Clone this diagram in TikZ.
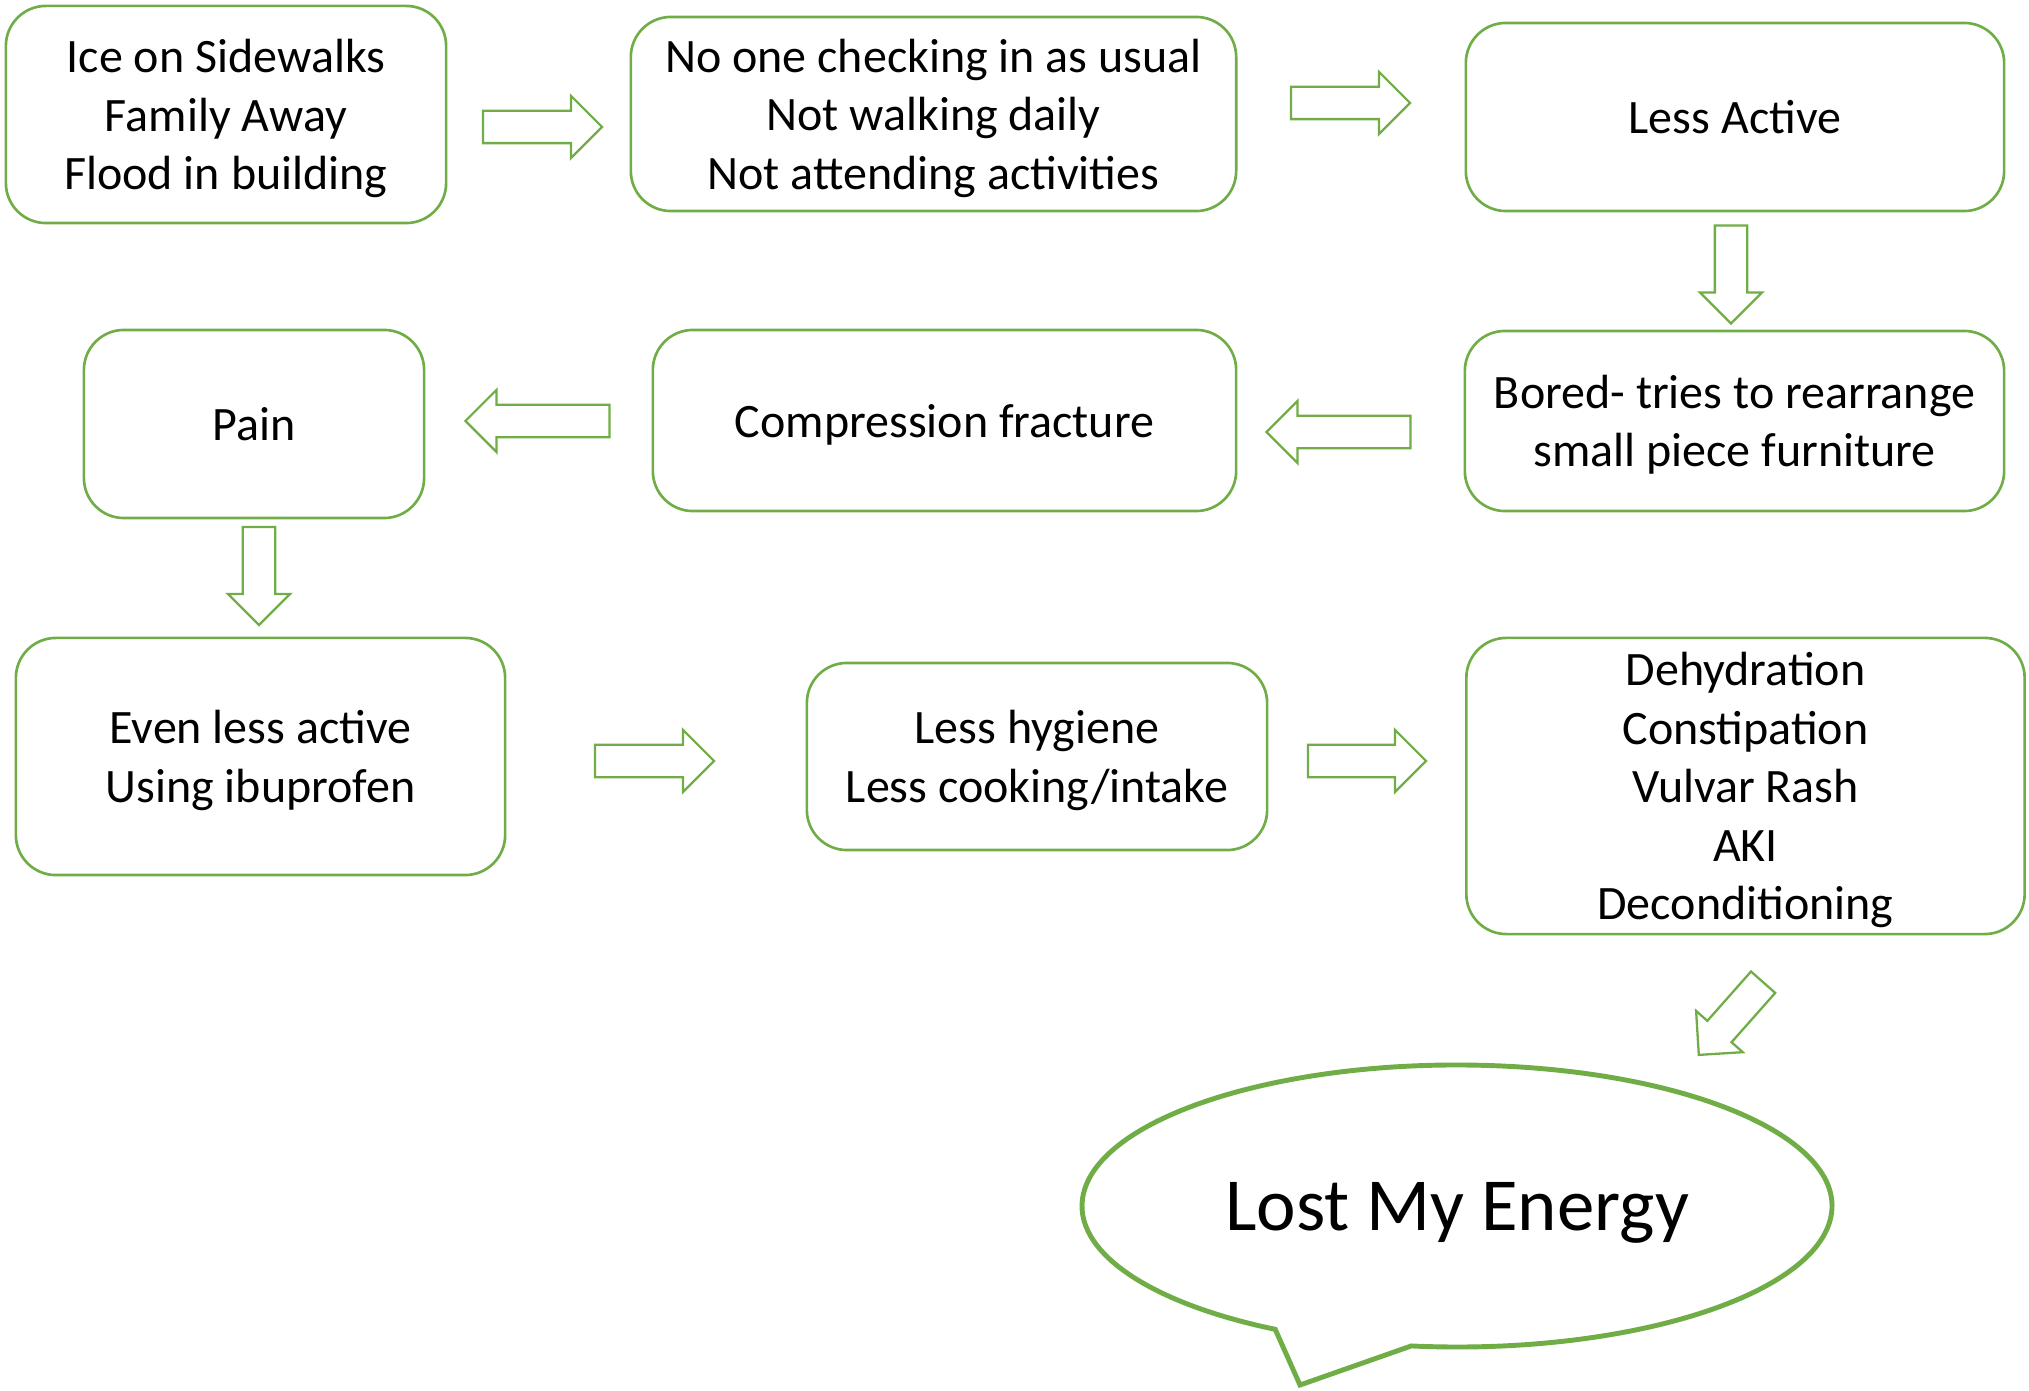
\documentclass[tikz,border=0pt]{standalone}
\usepackage{fontspec}
\setmainfont{Carlito}
\usepackage{tikz}
\usetikzlibrary{shapes.arrows}
\definecolor{vert}{RGB}{112,173,71}
\tikzset{
  hop/.style={draw=vert, line width=0.75pt, rounded corners=0.4cm, align=center, inner sep=0pt,
    text depth=0pt, font=\fontsize{13.65}{16.6}\selectfont},
  fleche/.style={single arrow, draw=vert, line width=0.65pt, inner xsep=0pt, inner ysep=0.15cm,
    single arrow head extend=0.15cm, single arrow tip angle=90, minimum height=#1},
  fleche/.default=1.19cm
}
\begin{document}
\begin{tikzpicture}[x=0.01cm,y=0.01cm]
\useasboundingbox (0,0) rectangle (2029,1390);
\node[hop, minimum width=4.40cm, minimum height=2.17cm] (ice) at (226,1275.5) {Ice on Sidewalks\\Family Away\\Flood in building};
\node[hop, minimum width=6.05cm, minimum height=1.94cm] (check) at (933.5,1276) {No one checking in as usual\\Not walking daily\\Not attending activities};
\node[hop, minimum width=5.38cm, minimum height=1.88cm] (active) at (1735,1273) {Less Active};
\node[hop, minimum width=5.39cm, minimum height=1.80cm] (bored) at (1734.5,969) {Bored- tries to rearrange\\small piece furniture};
\node[hop, minimum width=5.83cm, minimum height=1.81cm] (fracture) at (944.5,969.5) {Compression fracture};
\node[hop, minimum width=3.40cm, minimum height=1.88cm] (pain) at (254,966) {Pain};
\node[hop, minimum width=4.89cm, minimum height=2.37cm] (evenless) at (260.5,633.5) {Even less active\\Using ibuprofen};
\node[hop, minimum width=4.60cm, minimum height=1.87cm] (hygiene) at (1037,633.5) {Less hygiene\\Less cooking/intake};
\node[hop, minimum width=5.58cm, minimum height=2.96cm] (dehyd) at (1745.5,604) {Dehydration\\Constipation\\Vulvar Rash\\AKI\\Deconditioning};

\node[fleche] (f1) at (534.5,1263) {};
\node[fleche] (f2) at (1342.5,1287) {};
\node[fleche=0.98cm, rotate=-90] (f3) at (1731,1123.5) {};
\node[fleche=1.44cm, rotate=180] (f4) at (1346.5,958) {};
\node[fleche=1.44cm, rotate=180] (f5) at (545.5,969) {};
\node[fleche=0.98cm, rotate=-90] (f6) at (259,822) {};
\node[fleche] (f7) at (646.5,629) {};
\node[fleche=1.18cm] (f8) at (1359,629) {};
\node[fleche=0.97cm, rotate=228.5] (f9) at (1736.3,377.5) {};

\draw[vert, line width=1.4pt] (1457,184) ++(263:375 and 141) arc[start angle=263, end angle=601, x radius=375, y radius=141] -- (1300,5) -- cycle;
\node[font=\fontsize{21.3}{25}\selectfont, text depth=0pt] (energy) at (1457,184) {Lost My Energy};
\end{tikzpicture}
\end{document}
